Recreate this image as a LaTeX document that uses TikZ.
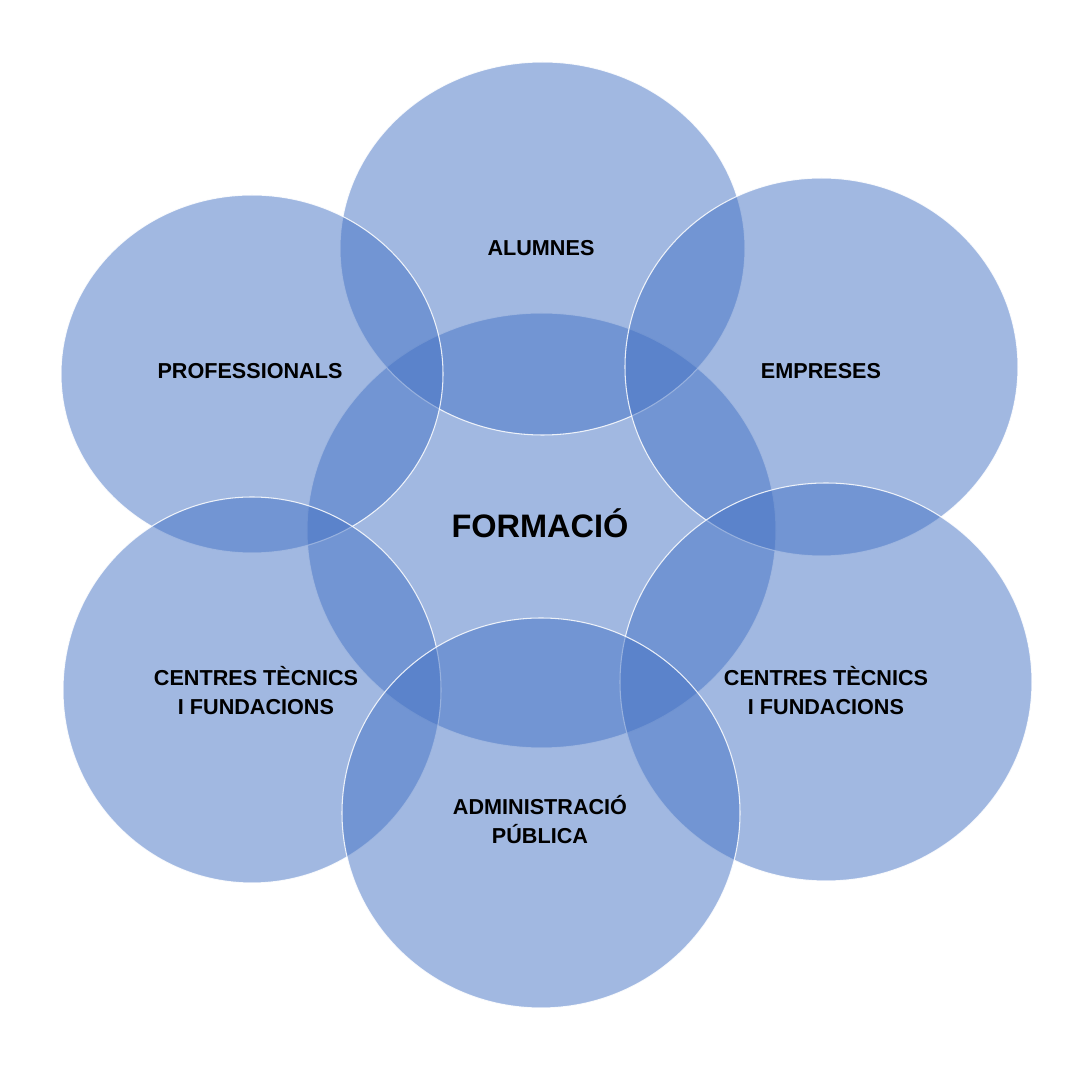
\documentclass[tikz,border=0pt]{standalone}
\usepackage{fontspec}
\setmainfont{Liberation Sans}

\definecolor{vennblue}{RGB}{68,114,196}

\tikzset{
	venn/.style={fill=vennblue, fill opacity=0.5, draw=white, draw opacity=0.85, line width=0.6pt},
	lbl/.style={anchor=base, align=center, text=black, font=\fontsize{12.3}{17}\selectfont\bfseries},
	bigl/.style={anchor=base, text=black, font=\fontsize{18.5}{22}\selectfont\bfseries},
}

\begin{document}
\begin{tikzpicture}[x=0.02cm, y=-0.02cm]

	\useasboundingbox (0,0) rectangle (1090,1070);

	% centres of the ellipses
	\coordinate (F) at (541.5,530.5);
	\coordinate (A) at (542.5,248.5);
	\coordinate (P) at (252,374);
	\coordinate (E) at (821.5,367);
	\coordinate (CL) at (252,690);
	\coordinate (CR) at (826,682);
	\coordinate (AP) at (541,813);

	% central ellipse
	\draw[venn] (F) ellipse [x radius=234.5, y radius=217.5];

	% outer ellipses
	\draw[venn] (A) ellipse [x radius=202.5, y radius=186.5];
	\draw[venn] (P) ellipse [x radius=191, y radius=179];
	\draw[venn] (E) ellipse [x radius=196.5, y radius=189];
	\draw[venn] (CL) ellipse [x radius=189, y radius=193];
	\draw[venn] (CR) ellipse [x radius=206, y radius=199];
	\draw[venn] (AP) ellipse [x radius=199, y radius=195];

	% labels (base = baseline of the last line)
	\node[bigl] (formacio) at (540,538) {FORMACIÓ};
	\node[lbl] (alumnes) at (541,256) {ALUMNES};
	\node[lbl] (professionals) at (250,379) {PROFESSIONALS};
	\node[lbl] (empreses) at (821,379) {EMPRESES};
	\node[lbl] (centresl) at (256,715) {CENTRES TÈCNICS\\I FUNDACIONS};
	\node[lbl] (centresr) at (826,715) {CENTRES TÈCNICS\\I FUNDACIONS};
	\node[lbl] (admin) at (540,844) {ADMINISTRACIÓ\\PÚBLICA};

\end{tikzpicture}
\end{document}
